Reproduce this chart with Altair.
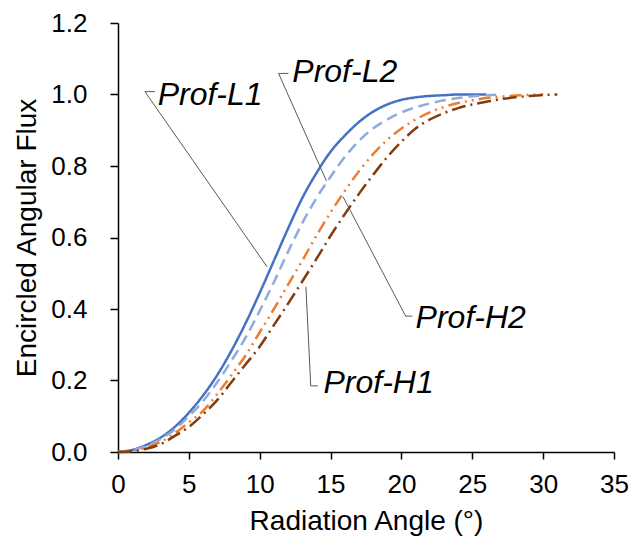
import altair as alt
import pandas as pd

# Curves: radiation angle (deg) vs encircled angular flux
l1_x = list(range(0, 27))
l1_y = [0, 0.006, 0.02, 0.04, 0.07, 0.11, 0.158, 0.215, 0.283, 0.36, 0.445, 0.535, 0.625,
        0.71, 0.78, 0.84, 0.885, 0.923, 0.952, 0.972, 0.985, 0.992, 0.996, 0.998, 1.0, 1.0, 1.0]

l2_x = list(range(0, 28))
l2_y = [0, 0.005, 0.017, 0.036, 0.063, 0.1, 0.142, 0.195, 0.255, 0.32, 0.395, 0.475, 0.56,
        0.64, 0.71, 0.77, 0.825, 0.87, 0.905, 0.93, 0.95, 0.964, 0.975, 0.984, 0.99, 0.995,
        0.998, 1.0]

h2_x = list(range(0, 31))
h2_y = [0, 0.003, 0.012, 0.028, 0.052, 0.083, 0.115, 0.162, 0.215, 0.27, 0.335, 0.4, 0.468,
        0.535, 0.605, 0.67, 0.73, 0.785, 0.833, 0.873, 0.905, 0.93, 0.95, 0.965, 0.976, 0.984,
        0.99, 0.994, 0.997, 0.999, 1.0]

h1_x = list(range(0, 32))
h1_y = [0, 0.002, 0.009, 0.022, 0.045, 0.07, 0.105, 0.145, 0.195, 0.245, 0.295, 0.355, 0.415,
        0.477, 0.54, 0.605, 0.665, 0.722, 0.775, 0.825, 0.868, 0.905, 0.93, 0.948, 0.962, 0.972,
        0.98, 0.987, 0.992, 0.996, 0.999, 1.0]

# Label annotations (leader lines in data coordinates)
labels = ["Prof-L1", "Prof-L2", "Prof-H2", "Prof-H1"]
label_x = [2.8, 12.3, 21.0, 14.5]
label_y = [1.0, 1.062, 0.375, 0.193]
leader_x = [[10.52, 1.9, 2.6], [14.71, 11.33, 12.03], [15.88, 20.3, 20.77], [13.26, 13.6, 14.1]]
leader_y = [[0.518, 1.008, 1.008], [0.758, 1.059, 1.059], [0.714, 0.38, 0.38], [0.462, 0.185, 0.185]]

FONT = "Liberation Sans"

xs = alt.Scale(domain=[0, 35], nice=False)
ys = alt.Scale(domain=[0, 1.2], nice=False)
xaxis = alt.Axis(title="Radiation Angle (°)", values=[0, 5, 10, 15, 20, 25, 30, 35],
                 grid=False, tickSize=7, labelPadding=12, titlePadding=10, labelFlush=False,
                 labelFontSize=26, titleFontSize=28, labelFont=FONT, titleFont=FONT,
                 labelColor="#000000", titleColor="#000000", titleFontWeight="normal",
                 domainColor="#000000", tickColor="#000000", domainWidth=1.5, tickWidth=1.5)
yaxis = alt.Axis(title="Encircled Angular Flux", values=[0, 0.2, 0.4, 0.6, 0.8, 1.0, 1.2],
                 format=".1f", grid=False, tickSize=8, labelPadding=23, titlePadding=9,
                 labelFlush=False,
                 labelFontSize=26, titleFontSize=28, labelFont=FONT, titleFont=FONT,
                 labelColor="#000000", titleColor="#000000", titleFontWeight="normal",
                 domainColor="#000000", tickColor="#000000", domainWidth=1.5, tickWidth=1.5)

X = lambda: alt.X("x:Q", scale=xs, axis=xaxis)
Y = lambda: alt.Y("y:Q", scale=ys, axis=yaxis)


def curve(xv, yv, color, dash):
    df = pd.DataFrame({"x": xv, "y": yv})
    m = alt.Chart(df).mark_line(color=color, strokeWidth=2.5, interpolate="monotone",
                                strokeDash=dash, strokeCap="butt")
    return m.encode(x=X(), y=Y())


layers = [
    curve(l1_x, l1_y, "#4472C4", [1, 0]),
    curve(l2_x, l2_y, "#8FAADC", [11, 6]),
    curve(h2_x, h2_y, "#ED7D31", [12, 5, 2, 5, 2, 5]),
    curve(h1_x, h1_y, "#843C0C", [14, 5, 2, 5]),
]

rows = []
for i, name in enumerate(labels):
    for j, (a, b) in enumerate(zip(leader_x[i], leader_y[i])):
        rows.append({"label": name, "order": j, "x": a, "y": b})
lead_df = pd.DataFrame(rows)
leaders = alt.Chart(lead_df).mark_line(color="#595959", strokeWidth=1).encode(
    x=X(), y=Y(), detail="label:N", order="order:Q",
)

text_df = pd.DataFrame({"label": labels, "x": label_x, "y": label_y})
texts = alt.Chart(text_df).mark_text(align="left", baseline="middle", font=FONT,
                                     fontSize=32, fontStyle="italic", color="#000000").encode(
    x=X(), y=Y(), text="label:N",
)

chart = alt.layer(*layers, leaders, texts).properties(
    width=496, height=429,
    background="#ffffff",
    autosize=alt.AutoSizeParams(type="none"),
    padding={"left": 110, "top": 15, "right": 18, "bottom": 85},
).configure_view(stroke=None)

chart.save("out.html", embed_options={"renderer": "svg", "actions": False})
